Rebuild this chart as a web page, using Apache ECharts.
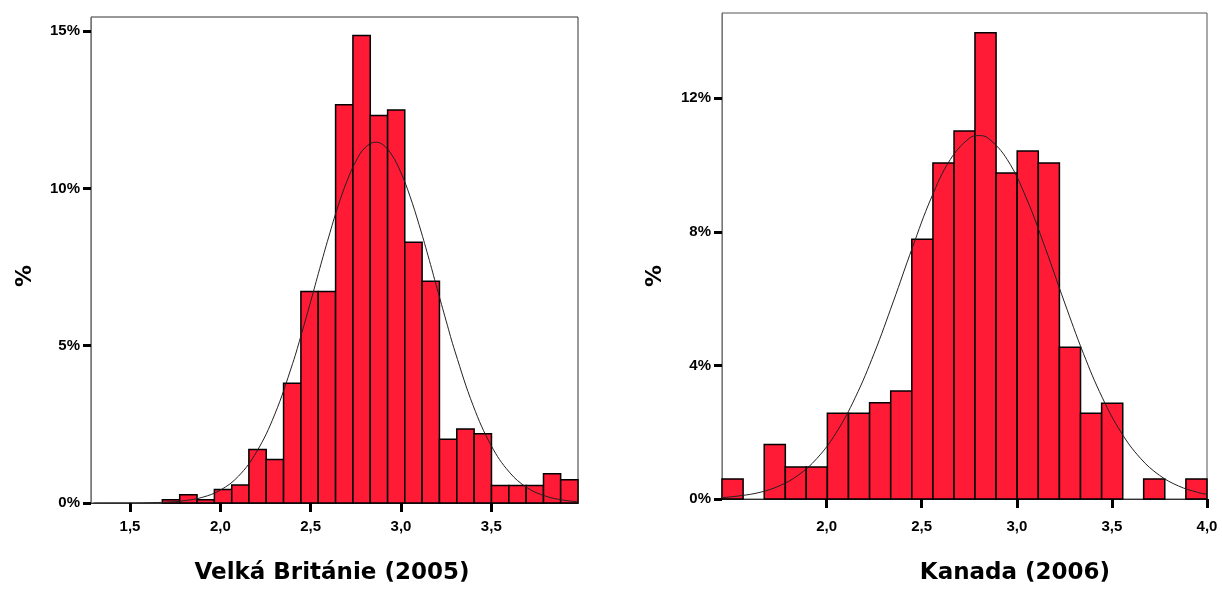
<!DOCTYPE html>
<html>
<head>
<meta charset="utf-8">
<script src="https://cdn.jsdelivr.net/npm/echarts@6/dist/echarts.min.js"></script>
<style>
    html, body { margin: 0; padding: 0; background: #fff; }
    #chart { width: 1222px; height: 590px; }
</style>
</head>
<body>
<div id="chart"></div>
<script>
    // Velka Britanie (2005) - bin edges and % of cases
    var ukEdges = [1.679, 1.775, 1.871, 1.967, 2.063, 2.158, 2.254, 2.350, 2.446, 2.542, 2.638, 2.734,
        2.830, 2.926, 3.021, 3.117, 3.213, 3.309, 3.405, 3.501, 3.597, 3.693, 3.789, 3.884, 3.980]
    var ukPercent = [0.10, 0.26, 0.10, 0.43, 0.57, 1.70, 1.38, 3.81, 6.72, 6.72, 12.66, 14.86,
        12.32, 12.49, 8.29, 7.05, 2.03, 2.35, 2.20, 0.56, 0.56, 0.56, 0.93, 0.74]
    // normal curve
    var ukCurve = [[1.30, 0.0002], [1.40, 0.001], [1.50, 0.003], [1.60, 0.009], [1.70, 0.027], [1.80, 0.074],
        [1.90, 0.18], [2.00, 0.41], [2.10, 0.85], [2.20, 1.62], [2.30, 2.80], [2.40, 4.43], [2.45, 5.39],
        [2.50, 6.40], [2.55, 7.45], [2.60, 8.46], [2.65, 9.41], [2.70, 10.22], [2.75, 10.86], [2.80, 11.29],
        [2.86, 11.47], [2.90, 11.39], [2.95, 11.06], [3.00, 10.50], [3.05, 9.75], [3.10, 8.85], [3.15, 7.86],
        [3.20, 6.82], [3.25, 5.79], [3.30, 4.80], [3.40, 3.09], [3.50, 1.82], [3.60, 0.98], [3.70, 0.48],
        [3.80, 0.22], [3.90, 0.09], [3.98, 0.04]]
    var ukTicksX = [1.5, 2.0, 2.5, 3.0, 3.5]
    var ukTicksY = [0, 5, 10, 15]

    // Kanada (2006)
    var caEdges = [1.450, 1.561, 1.672, 1.783, 1.893, 2.004, 2.115, 2.226, 2.337, 2.448, 2.559, 2.670,
        2.780, 2.891, 3.002, 3.113, 3.224, 3.335, 3.446, 3.557, 3.667, 3.778, 3.889, 4.000]
    var caPercent = [0.60, 0, 1.63, 0.96, 0.96, 2.57, 2.57, 2.88, 3.23, 7.78, 10.06, 11.02,
        13.96, 9.76, 10.42, 10.06, 4.54, 2.57, 2.87, 0, 0.60, 0, 0.60]
    var caCurve = [[1.45, 0.04], [1.55, 0.10], [1.65, 0.20], [1.75, 0.39], [1.85, 0.71], [1.95, 1.22],
        [2.05, 1.98], [2.15, 3.03], [2.25, 4.36], [2.35, 5.90], [2.45, 7.51], [2.55, 9.01], [2.65, 10.16],
        [2.75, 10.80], [2.80, 10.88], [2.85, 10.80], [2.95, 10.16], [3.05, 9.01], [3.15, 7.51], [3.25, 5.90],
        [3.35, 4.36], [3.45, 3.03], [3.55, 1.98], [3.65, 1.22], [3.75, 0.71], [3.85, 0.39], [3.95, 0.20],
        [4.00, 0.14]]
    var caTicksX = [2.0, 2.5, 3.0, 3.5, 4.0]
    var caTicksY = [0, 4, 8, 12]

    var barColor = '#ff1a35'
    var labelFont = { color: '#000', fontSize: 15, fontWeight: 'bold', fontFamily: 'Liberation Sans' }

    function bins(edges, values) {
        var out = []
        for (var i = 0; i < values.length; i++) {
            out.push([edges[i], edges[i + 1], values[i]])
        }
        return out
    }

    function renderBin(params, api) {
        var v = api.value(2)
        if (!v) return null
        var p0 = api.coord([api.value(0), v])
        var p1 = api.coord([api.value(1), 0])
        return {
            type: 'rect',
            shape: { x: p0[0], y: p0[1], width: p1[0] - p0[0], height: p1[1] - p0[1] },
            style: { fill: barColor, stroke: '#000', lineWidth: 1.5 }
        }
    }

    function xAxis(idx, min, max, ticks, margin) {
        return {
            type: 'value', gridIndex: idx, min: min, max: max,
            splitLine: { show: false },
            axisLine: { show: true, lineStyle: { color: '#333', width: 1 } },
            axisTick: { show: true, customValues: ticks, length: 9, lineStyle: { color: '#000', width: 3 } },
            axisLabel: Object.assign({
                customValues: ticks, margin: margin,
                formatter: function (v) { return v.toFixed(1).replace('.', ',') }
            }, labelFont)
        }
    }

    function yAxis(idx, max, ticks) {
        return {
            type: 'value', gridIndex: idx, min: 0, max: max,
            splitLine: { show: false },
            axisLine: { show: true, lineStyle: { color: '#777', width: 1 } },
            axisTick: { show: true, customValues: ticks, length: 8, lineStyle: { color: '#000', width: 3 } },
            axisLabel: Object.assign({
                customValues: ticks, margin: 11,
                formatter: function (v) { return v + '%' }
            }, labelFont)
        }
    }

    function curve(idx, data) {
        return {
            type: 'line', xAxisIndex: idx, yAxisIndex: idx, data: data,
            smooth: 0.4, showSymbol: false, silent: true, z: 5,
            lineStyle: { color: '#222', width: 1 }
        }
    }

    function titleText(x, y, text, rotate, size) {
        return {
            type: 'text', x: x, y: y, rotation: rotate || 0,
            style: {
                text: text, fill: '#000', font: 'bold ' + (size || 23) + 'px "DejaVu Sans"',
                align: 'center', verticalAlign: 'middle'
            }
        }
    }

    var option = {
        animation: false,
        backgroundColor: '#fff',
        grid: [
            { left: 91, right: 644, top: 17, bottom: 87, show: true, borderColor: '#333', borderWidth: 1 },
            { left: 722, right: 15, top: 13, bottom: 91, show: true, borderColor: '#555', borderWidth: 1 }
        ],
        xAxis: [
            xAxis(0, 1.284, 3.98, ukTicksX, 16),
            xAxis(1, 1.45, 4.0, caTicksX, 20)
        ],
        yAxis: [
            yAxis(0, 15.45, ukTicksY),
            yAxis(1, 14.55, caTicksY)
        ],
        series: [
            {
                type: 'custom', xAxisIndex: 0, yAxisIndex: 0, renderItem: renderBin,
                encode: { x: [0, 1], y: 2 }, data: bins(ukEdges, ukPercent)
            },
            curve(0, ukCurve),
            {
                type: 'custom', xAxisIndex: 1, yAxisIndex: 1, renderItem: renderBin,
                encode: { x: [0, 1], y: 2 }, data: bins(caEdges, caPercent)
            },
            curve(1, caCurve)
        ],
        graphic: [
            titleText(332, 573, 'Velká Británie (2005)'),
            titleText(1015, 573, 'Kanada (2006)'),
            titleText(25, 276, '%', Math.PI / 2, 22),
            titleText(655, 276, '%', Math.PI / 2, 22)
        ]
    }

    echarts.init(document.getElementById('chart')).setOption(option)
</script>
</body>
</html>
